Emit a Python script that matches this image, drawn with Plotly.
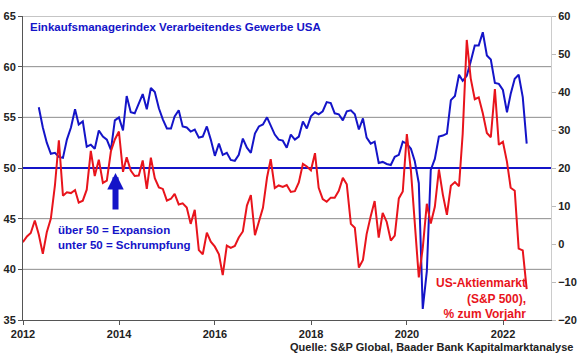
import plotly.graph_objects as go
import pandas as pd

# S&P 500, % change vs. prior year (month-end), Dec 2011 - Jun 2022
spx_start = "2011-12-31"
spx_yoy = [
    0.5,
    2.0, 2.9, 6.2, 2.5, -2.6, 3.1, 6.7, 15.4, 27.3, 12.7, 13.6, 13.4,
    14.2, 10.9, 11.4, 14.3, 24.5, 17.9, 22.2, 16.1, 16.7, 24.4, 27.5, 29.6,
    19.0, 22.8, 19.3, 17.9, 18.0, 22.0, 14.5, 22.7, 17.3, 14.9, 14.5, 11.4,
    11.9, 13.2, 10.4, 10.7, 9.6, 5.3, 9.0, -1.6, -2.7, 3.0, 0.6, -0.7,
    -2.7, -8.2, -0.4, -1.0, -0.5, 1.7, 3.3, 10.1, 12.9, 2.3, 5.7, 9.5,
    17.5, 22.3, 14.7, 15.4, 15.0, 15.5, 13.7, 13.9, 16.2, 21.1, 20.4, 19.4,
    23.9, 14.8, 11.8, 11.1, 12.2, 12.2, 14.0, 17.4, 15.7, 5.3, 4.3, -6.2,
    -4.2, 2.6, 7.3, 11.3, 1.7, 8.2, 5.8, 0.9, 2.2, 12.0, 13.8, 28.9,
    19.3, 6.1, -8.8, -1.1, 10.6, 5.4, 9.8, 19.6, 13.0, 7.7, 15.3, 16.3,
    15.2, 29.0, 53.7, 43.6, 38.1, 38.6, 34.4, 29.2, 28.1, 40.8, 26.1, 26.9,
    21.6, 14.8, 14.0, -1.2, -1.7, -11.9,
]

# Einkaufsmanagerindex verarbeitendes Gewerbe USA, Apr 2012 - Jun 2022
pmi_start = "2012-04-30"
pmi = [
    56.0, 54.0, 52.5, 51.4, 51.5, 51.1, 51.0, 52.8, 54.0,
    55.8, 54.3, 54.6, 52.1, 52.3, 51.9, 53.7, 53.1, 52.8, 51.8, 54.7, 55.0,
    53.7, 57.1, 55.5, 55.4, 56.4, 57.3, 55.8, 57.9, 57.5, 55.9, 54.8, 53.9,
    53.9, 55.1, 55.7, 54.1, 54.0, 53.6, 53.8, 53.0, 53.1, 54.1, 52.8, 51.2,
    52.4, 51.3, 51.5, 50.8, 50.7, 51.3, 52.9, 52.0, 51.5, 53.4, 54.1, 54.3,
    55.0, 54.2, 53.3, 52.8, 52.7, 52.0, 53.3, 52.8, 53.1, 54.6, 53.9, 55.1,
    55.5, 55.3, 55.6, 56.5, 56.4, 55.4, 55.3, 54.7, 55.6, 55.7, 55.3, 53.8,
    54.9, 53.0, 52.4, 52.6, 50.5, 50.6, 50.4, 50.3, 51.1, 51.3, 52.6, 52.4,
    51.9, 50.7, 48.5, 36.1, 39.8, 49.8, 50.9, 53.1, 53.2, 53.4, 56.7, 57.1,
    59.2, 58.6, 59.1, 60.5, 62.1, 62.1, 63.4, 61.1, 60.7, 58.4, 58.3, 57.7,
    55.5, 57.3, 58.8, 59.2, 57.0, 52.4,
]

left_ticks = [35, 40, 45, 50, 55, 60, 65]
right_ticks = [-20, -10, 0, 10, 20, 30, 40, 50, 60]
year_ticks = ["2012", "2014", "2016", "2018", "2020", "2022"]
threshold = 50

spx_dates = pd.date_range(spx_start, periods=len(spx_yoy), freq="ME")
pmi_dates = pd.date_range(pmi_start, periods=len(pmi), freq="ME")

BLUE = "#1414c8"
RED = "#e8141c"
FONT = "Liberation Sans, Arial, sans-serif"

fig = go.Figure()
fig.add_trace(go.Scatter(x=spx_dates, y=spx_yoy, yaxis="y2", mode="lines",
                         line=dict(color=RED, width=2), showlegend=False))
fig.add_trace(go.Scatter(x=pmi_dates, y=pmi, yaxis="y", mode="lines",
                         line=dict(color=BLUE, width=2), showlegend=False))

fig.update_layout(
    width=580, height=359,
    margin=dict(l=23, r=29, t=16, b=39, autoexpand=False),
    paper_bgcolor="white", plot_bgcolor="white",
    font=dict(family=FONT, size=11, color="#222"),
    xaxis=dict(
        type="date", range=["2012-01-01", "2023-01-01"], automargin=False,
        tickvals=[y + "-01-01" for y in year_ticks], ticktext=year_ticks,
        ticks="outside", ticklen=4, tickcolor="#555",
        showline=True, linecolor="#555", linewidth=1,
        showgrid=False, zeroline=False,
        tickfont=dict(family=FONT, size=11, color="#222", weight="bold"),
    ),
    yaxis=dict(
        range=[35, 65], tickvals=left_ticks, automargin=False,
        ticks="outside", ticklen=4, tickcolor="#555",
        showline=True, linecolor="#555", linewidth=1,
        showgrid=False, zeroline=False,
        tickfont=dict(family=FONT, size=11, color="#222", weight="bold"),
    ),
    yaxis2=dict(
        range=[-20, 60], tickvals=right_ticks, overlaying="y", side="right",
        automargin=False,
        ticks="outside", ticklen=4, tickcolor="#bbb",
        showline=True, linecolor="#ccc", linewidth=1,
        showgrid=False, zeroline=False,
        tickfont=dict(family=FONT, size=11, color="#222", weight="bold"),
    ),
)

# Gitterlinien (grau) und 50-Linie (blau)
for v in left_ticks[1:]:
    if v == threshold:
        continue
    fig.add_shape(type="line", xref="paper", x0=0, x1=1, yref="y", y0=v, y1=v,
                  line=dict(color="#8c8c8c", width=1), layer="below")
fig.add_shape(type="line", xref="paper", x0=0, x1=1, yref="y",
              y0=threshold, y1=threshold,
              line=dict(color=BLUE, width=2), layer="below")

fig.add_annotation(
    xref="paper", yref="paper", x=0.0095, y=0.964, xanchor="left", yanchor="middle",
    text="<b>Einkaufsmanagerindex Verarbeitendes Gewerbe USA</b>",
    showarrow=False, font=dict(family=FONT, size=11.5, color=BLUE),
)
fig.add_annotation(
    xref="paper", yref="paper", x=0.062, y=0.27, xanchor="left", yanchor="middle",
    align="left",
    text="<b>über 50 = Expansion<br>unter 50 = Schrumpfung</b>",
    showarrow=False, font=dict(family=FONT, size=11.5, color=BLUE),
)
fig.add_annotation(
    x="2013-12-05", y=49.5, xref="x", yref="y", text="",
    showarrow=True, arrowhead=2, arrowsize=0.55, arrowwidth=6,
    arrowcolor=BLUE, ax=0, ay=38,
)
fig.add_annotation(
    xref="paper", yref="paper", x=0.957, y=0.072, xanchor="right", yanchor="middle",
    align="right",
    text="<b>US-Aktienmarkt<br>(S&P 500),<br>% zum Vorjahr</b>",
    showarrow=False, font=dict(family=FONT, size=12, color=RED),
)
fig.add_annotation(
    xref="paper", yref="paper", x=1.0455, y=-0.088, xanchor="right", yanchor="middle",
    text="<b>Quelle: S&P Global, Baader Bank Kapitalmarktanalyse</b>",
    showarrow=False, font=dict(family=FONT, size=11, color="#222"),
)

fig.write_html(
    "out.html",
    config={"displayModeBar": False},
    post_script="document.body.style.margin='0';document.body.style.overflow='hidden';",
)
